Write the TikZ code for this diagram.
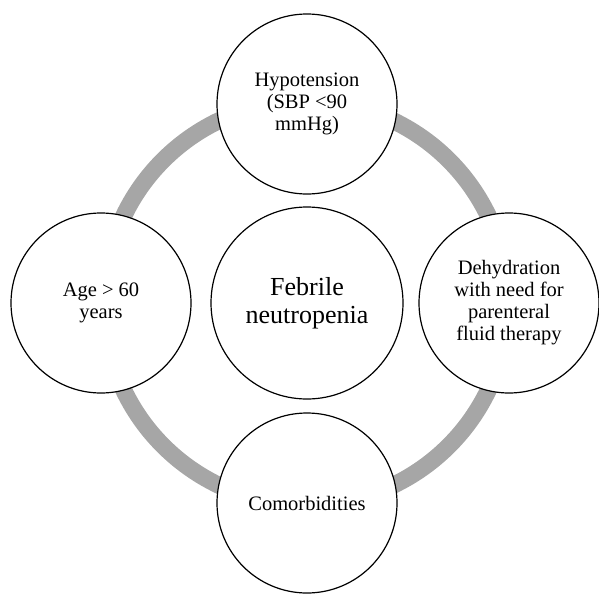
\documentclass[tikz,border=0pt]{standalone}
\usepackage{fontspec}
\setmainfont{Liberation Serif}
\begin{document}
\begin{tikzpicture}[x=1pt,y=-1pt,
  outer/.style={circle, draw=black, line width=1.2pt, fill=white, minimum size=180pt, inner sep=0pt, align=center, font=\fontsize{20.5}{22}\selectfont},
  hub/.style={circle, draw=black, line width=1.2pt, fill=white, minimum size=192pt, inner sep=0pt, align=center, font=\fontsize{26}{28}\selectfont},
  ring/.style={draw=black!35, line width=17pt}]
\useasboundingbox (0,0) rectangle (599,594);
\coordinate (c) at (306,303);
\draw[ring] (c) circle[radius=202];
\node[hub] (fn) at (307,303) {Febrile\\neutropenia};
\node[outer] (hyp) at (307,104) {Hypotension\\(SBP <90\\mmHg)};
\node[outer] (dehy) at (509,303) {Dehydration\\with need for\\parenteral\\fluid therapy};
\node[outer] (como) at (307,503) {Comorbidities};
\node[outer] (age) at (101,303) {Age > 60\\years};
\end{tikzpicture}
\end{document}
